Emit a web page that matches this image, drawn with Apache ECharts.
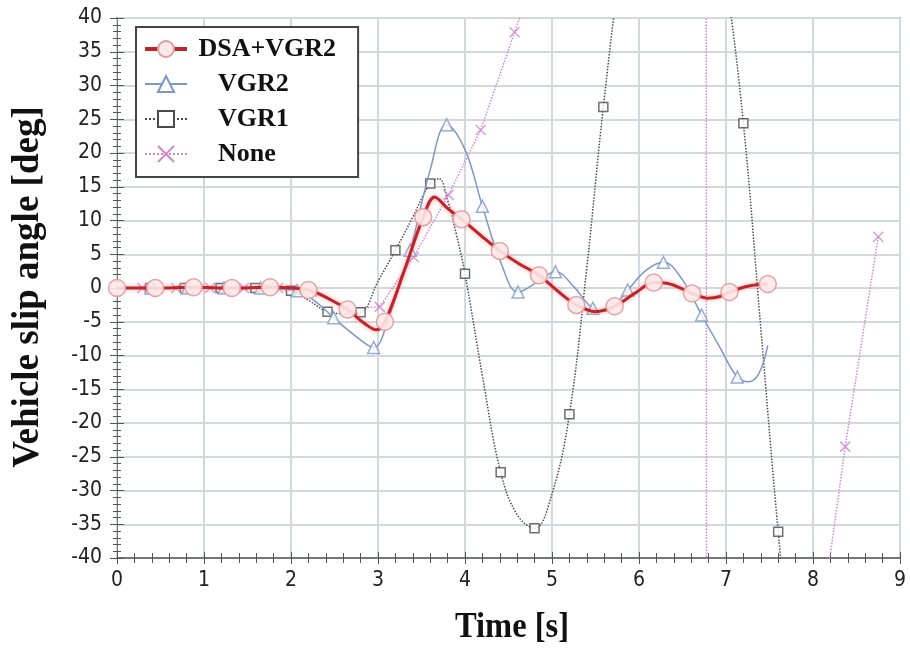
<!DOCTYPE html>
<html><head><meta charset="utf-8">
<script src="https://cdn.jsdelivr.net/npm/echarts@6/dist/echarts.min.js"></script>
<style>html,body{margin:0;padding:0;background:#fff}#c{width:910px;height:652px}</style>
</head><body><div id="c"></div>
<script>
// ---------- axis ticks ----------
const xTickLabels = [0, 1, 2, 3, 4, 5, 6, 7, 8, 9];
const yTickLabels = [-40, -35, -30, -25, -20, -15, -10, -5, 0, 5, 10, 15, 20, 25, 30, 35, 40];

// ---------- series names ----------
const seriesNames = ['DSA+VGR2', 'VGR2', 'VGR1', 'None'];

// ---------- DSA+VGR2 ----------
const dsaT = [0, 0.44, 0.88, 1.32, 1.76, 2.2, 2.45, 2.65, 2.85, 2.98, 3.08, 3.3, 3.52, 3.65, 3.8, 3.96, 4.18, 4.4, 4.62, 4.85, 5.06, 5.28, 5.5, 5.72, 5.95, 6.17, 6.32, 6.46, 6.61, 6.79, 6.92, 7.04, 7.26, 7.48];
const dsaV = [0, 0, 0.1, 0, 0.1, -0.3, -1.7, -3.2, -5.3, -6.2, -5.0, 2.5, 10.5, 13.5, 11.8, 10.2, 7.8, 5.5, 3.6, 1.9, -0.4, -2.5, -3.5, -2.7, -0.8, 0.8, 0.7, 0.1, -0.8, -1.5, -1.3, -0.6, 0.3, 0.6];
const dsaMarkT = [0, 0.44, 0.88, 1.32, 1.76, 2.2, 2.65, 3.08, 3.52, 3.96, 4.4, 4.85, 5.28, 5.72, 6.17, 6.61, 7.04, 7.48];
const dsaMarkV = [0, 0, 0.1, 0, 0.1, -0.3, -3.2, -5.0, 10.5, 10.2, 5.5, 1.9, -2.5, -2.7, 0.8, -0.8, -0.6, 0.6];

// ---------- VGR2 ----------
const vgr2T = [0, 0.39, 0.81, 1.23, 1.65, 2.07, 2.3, 2.49, 2.75, 2.95, 3.12, 3.37, 3.6, 3.79, 4.0, 4.2, 4.42, 4.61, 4.82, 5.04, 5.25, 5.47, 5.62, 5.87, 6.08, 6.28, 6.5, 6.72, 6.93, 7.13, 7.26, 7.38, 7.48];
const vgr2V = [0, 0, 0, 0, 0, -0.4, -2.2, -4.4, -7.2, -8.8, -4.5, 5.6, 17.5, 24.2, 20.5, 12.1, 3.5, -0.6, 0.8, 2.4, 0.2, -3.0, -3.4, -0.3, 2.6, 3.8, 1.2, -4.0, -8.8, -13.2, -13.9, -12.6, -8.5];
const vgr2MarkT = [0.39, 0.81, 1.23, 1.65, 2.07, 2.49, 2.95, 3.37, 3.79, 4.2, 4.61, 5.04, 5.47, 5.87, 6.28, 6.72, 7.13];
const vgr2MarkV = [0, 0, 0, 0, -0.4, -4.4, -8.8, 5.6, 24.2, 12.1, -0.6, 2.4, -3.0, -0.3, 3.8, -4.0, -13.2];

// ---------- VGR1 ----------
const vgr1T = [0, 0.38, 0.78, 1.19, 1.59, 2.0, 2.2, 2.42, 2.62, 2.8, 3.0, 3.2, 3.4, 3.6, 3.7, 3.8, 3.9, 4.0, 4.2, 4.41, 4.6, 4.8, 5.0, 5.2, 5.4, 5.59, 5.8, 6.0, 6.4, 6.8, 7.0, 7.2, 7.4, 7.6, 7.8, 8.0];
const vgr1V = [0, 0, 0, 0, 0, -0.4, -1.8, -3.5, -3.8, -3.6, 1.0, 5.6, 10.5, 15.5, 16.2, 13, 8, 2.1, -13, -27.3, -33.6, -35.6, -30.5, -18.7, 3, 26.8, 49, 65, 77, 63, 46, 24.4, -6, -36.1, -62, -85];
const vgr1MarkT = [0.38, 0.78, 1.19, 1.59, 2.0, 2.42, 2.8, 3.2, 3.6, 4.0, 4.41, 4.8, 5.2, 5.59, 6.0, 6.4, 6.8, 7.2, 7.6, 8.0];
const vgr1MarkV = [0, 0, 0, 0, -0.4, -3.5, -3.6, 5.6, 15.5, 2.1, -27.3, -35.6, -18.7, 26.8, 65, 77, 63, 24.4, -36.1, -85];

// ---------- None ----------
const noneT = [0, 0.29, 0.68, 1.07, 1.46, 1.85, 2.24, 2.63, 3.02, 3.41, 3.81, 4.18, 4.57, 4.96, 5.35, 5.74, 6.13, 6.52, 6.77, 6.78, 7.2, 7.59, 7.98, 8.37, 8.75];
const noneV = [0, 0, 0, 0, 0, 0, -0.5, -3.0, -2.8, 4.6, 13.8, 23.4, 37.9, 52, 68, 85, 100, 115, 125, -160, -140, -100, -60, -23.5, 7.6];
const noneMarkT = [0.29, 0.68, 1.07, 1.46, 1.85, 2.24, 2.63, 3.02, 3.41, 3.81, 4.18, 4.57, 4.96, 5.35, 5.74, 6.13, 6.52, 7.2, 7.59, 7.98, 8.37, 8.75];
const noneMarkV = [0, 0, 0, 0, 0, -0.5, -3.0, -2.8, 4.6, 13.8, 23.4, 37.9, 52, 68, 85, 100, 115, -140, -100, -60, -23.5, 7.6];

function pairs(t, v) { return t.map((x, i) => [x, v[i]]); }

const labelFont = '"Liberation Sans Narrow", "DejaVu Sans Condensed", "Liberation Sans", sans-serif';
const serif = '"Liberation Serif", "Times New Roman", serif';
const gridColor = '#d3d8dc';
const axisColor = '#555';

const colors = {
  dsaLine: '#c0232a', dsaFill: '#fde9e9', dsaBorder: '#e39a9a',
  vgr2: '#7d98c8',
  vgr1: '#4a4a4a',
  none: '#cf86cf'
};

function xAxisDef(inner) {
  return {
    type: 'value', min: xTickLabels[0], max: xTickLabels[xTickLabels.length - 1], interval: 1,
    position: 'bottom',
    axisLine: { show: !inner, onZero: false, lineStyle: { color: axisColor, width: 1.5 } },
    axisTick: { show: true, inside: inner, length: 6, lineStyle: { color: axisColor, width: 1 } },
    minorTick: { show: true, splitNumber: 5, length: 5, lineStyle: { color: axisColor, width: 1 } },
    splitLine: { show: !inner, lineStyle: { color: gridColor, width: 2 } },
    axisLabel: { show: !inner, fontSize: 21, fontFamily: labelFont, color: '#222', margin: 12 }
  };
}
function yAxisDef(inner) {
  return {
    type: 'value', min: yTickLabels[0], max: yTickLabels[yTickLabels.length - 1], interval: 5,
    position: 'left',
    axisLine: { show: !inner, onZero: false, lineStyle: { color: '#777', width: 1 } },
    axisTick: { show: true, inside: inner, length: 7, lineStyle: { color: axisColor, width: 1 } },
    minorTick: { show: true, splitNumber: 5, length: 4, lineStyle: { color: axisColor, width: 1 } },
    splitLine: { show: !inner, lineStyle: { color: gridColor, width: 2 } },
    axisLabel: { show: !inner, fontSize: 21, fontFamily: labelFont, color: '#222', margin: 15 }
  };
}

const xSymbol = 'path://M0 0L10 10M10 0L0 10';

const option = {
  animation: false,
  backgroundColor: '#fff',
  grid: { left: 117, right: 10, top: 18, bottom: 94, show: true, borderColor: '#999', borderWidth: 2, backgroundColor: 'transparent' },
  xAxis: [xAxisDef(false), xAxisDef(true)],
  yAxis: [yAxisDef(false), yAxisDef(true)],
  legend: {
    orient: 'vertical', left: 136, top: 27,
    padding: [9, 22, 10, 7], itemGap: 9, itemWidth: 42, itemHeight: 20,
    backgroundColor: '#fff', borderColor: '#444', borderWidth: 2,
    textStyle: { fontFamily: serif, fontWeight: 'bold', fontSize: 26, color: '#111' },
    formatter: function (name) {
      return name === seriesNames[0] ? '\u00a0' + name : '\u00a0\u00a0\u00a0\u00a0' + name;
    },
    data: [
      { name: seriesNames[0], lineStyle: { width: 4 } },
      { name: seriesNames[1] },
      { name: seriesNames[2] },
      { name: seriesNames[3] }
    ]
  },
  graphic: [
    { type: 'text', x: 512, y: 628, scaleX: 0.93,
      style: { text: 'Time [s]', font: 'bold 35px ' + serif, fill: '#111', align: 'center', verticalAlign: 'middle', textAlign: 'center', textVerticalAlign: 'middle' } },
    { type: 'text', x: 28, y: 287, rotation: Math.PI / 2,
      style: { text: 'Vehicle slip angle [deg]', font: 'bold 37px ' + serif, fill: '#111', align: 'center', verticalAlign: 'middle', textAlign: 'center', textVerticalAlign: 'middle' } }
  ],
  series: [
    { name: seriesNames[2], type: 'line', data: pairs(vgr1T, vgr1V), smooth: 0.4,
      symbol: 'rect', symbolSize: 9, showSymbol: false, z: 2,
      lineStyle: { color: colors.vgr1, width: 1.5, type: 'dotted' },
      itemStyle: { color: '#fff', borderColor: colors.vgr1, borderWidth: 1.5 } },
    { name: seriesNames[2], type: 'scatter', data: pairs(vgr1MarkT, vgr1MarkV), symbol: 'rect', symbolSize: 9, z: 3,
      itemStyle: { color: '#fff', borderColor: colors.vgr1, borderWidth: 1.5 } },

    { name: seriesNames[3], type: 'line', data: pairs(noneT, noneV), smooth: false,
      symbol: xSymbol, symbolSize: 10, showSymbol: false, z: 2,
      lineStyle: { color: colors.none, width: 1.5, type: 'dotted' },
      itemStyle: { color: 'transparent', borderColor: colors.none, borderWidth: 1.5 } },
    { name: seriesNames[3], type: 'scatter', data: pairs(noneMarkT, noneMarkV), symbol: xSymbol, symbolSize: 10, z: 3,
      itemStyle: { color: 'transparent', borderColor: colors.none, borderWidth: 1.5 } },

    { name: seriesNames[1], type: 'line', data: pairs(vgr2T, vgr2V), smooth: 0.4,
      symbol: 'triangle', symbolSize: 12, showSymbol: false, z: 4,
      lineStyle: { color: colors.vgr2, width: 1.5 },
      itemStyle: { color: '#fff', borderColor: colors.vgr2, borderWidth: 1.5 } },
    { name: seriesNames[1], type: 'scatter', data: pairs(vgr2MarkT, vgr2MarkV), symbol: 'triangle', symbolSize: 12, z: 5,
      itemStyle: { color: '#fff', borderColor: colors.vgr2, borderWidth: 1.5 } },

    { name: seriesNames[0], type: 'line', data: pairs(dsaT, dsaV), smooth: 0.35,
      symbol: 'circle', symbolSize: 16, showSymbol: false, z: 6,
      lineStyle: { color: colors.dsaLine, width: 3, shadowColor: 'rgba(240,130,130,0.7)', shadowBlur: 5 },
      itemStyle: { color: colors.dsaFill, borderColor: colors.dsaBorder, borderWidth: 1.5 } },
    { name: seriesNames[0], type: 'scatter', data: pairs(dsaMarkT, dsaMarkV), symbol: 'circle', symbolSize: 17, z: 7,
      itemStyle: { color: colors.dsaFill, borderColor: colors.dsaBorder, borderWidth: 1.5, opacity: 0.9 } }
  ]
};

const chart = echarts.init(document.getElementById('c'), null, { renderer: 'canvas' });
chart.setOption(option);
</script>
</body></html>
